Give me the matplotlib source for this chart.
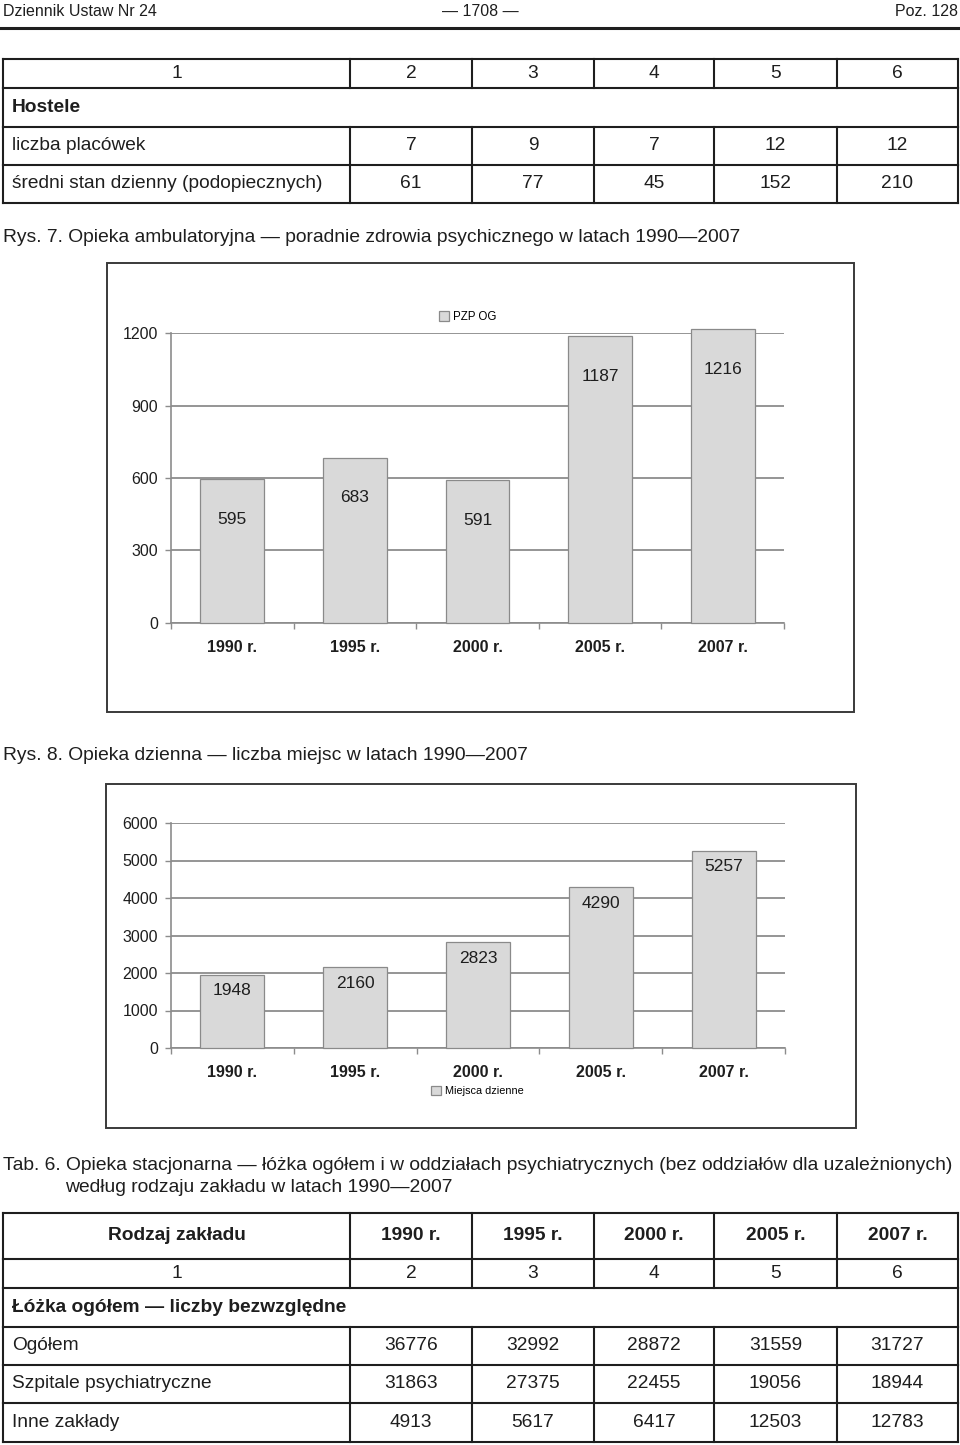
import matplotlib
matplotlib.use("Agg")
import matplotlib.pyplot as plt
from matplotlib import font_manager
from matplotlib.patches import Rectangle

# ── Data ──────────────────────────────────────────────────────────────────────
years = ["1990 r.", "1995 r.", "2000 r.", "2005 r.", "2007 r."]
col_numbers = ["1", "2", "3", "4", "5", "6"]

hostele_placowki = [7, 9, 7, 12, 12]
hostele_stan = [61, 77, 45, 152, 210]

pzp_og = [595, 683, 591, 1187, 1216]
pzp_ticks = [0, 300, 600, 900, 1200]

miejsca_dzienne = [1948, 2160, 2823, 4290, 5257]
dzienne_ticks = [0, 1000, 2000, 3000, 4000, 5000, 6000]

tab6_rows = ["Ogółem", "Szpitale psychiatryczne", "Inne zakłady"]
tab6_ogolem = [36776, 32992, 28872, 31559, 31727]
tab6_szpitale = [31863, 27375, 22455, 19056, 18944]
tab6_inne = [4913, 5617, 6417, 12503, 12783]

# ── Page setup ────────────────────────────────────────────────────────────────
W, H = 960, 1445
names = {f.name for f in font_manager.fontManager.ttflist}
SANS = "Liberation Sans"
HAS_NARROW = "Liberation Sans Narrow" in names
NARROW = "Liberation Sans Narrow" if HAS_NARROW else SANS

plt.rcParams["font.family"] = [SANS, "DejaVu Sans"]

fig = plt.figure(figsize=(W / 100, H / 100), dpi=100)
page = fig.add_axes([0, 0, 1, 1])
page.set_xlim(0, W)
page.set_ylim(H, 0)
page.axis("off")

INK = "#1e1e1e"
GRID = "#8c8c8c"
BAR = "#d9d9d9"
BAR_EDGE = "#8a8a8a"


def px_axes(x0, y0, x1, y1):
    return fig.add_axes([x0 / W, 1 - y1 / H, (x1 - x0) / W, (y1 - y0) / H])


def draw_table(cols, rows, cells, span_rows, bold_rows, fs=13.8):
    for y in rows:
        page.plot([cols[0], cols[-1]], [y, y], color=INK, lw=1.5,
                  solid_capstyle="projecting")
    for i in range(len(rows) - 1):
        y0, y1 = rows[i], rows[i + 1]
        page.plot([cols[0], cols[0]], [y0, y1], color=INK, lw=1.5)
        page.plot([cols[-1], cols[-1]], [y0, y1], color=INK, lw=1.5)
        yc = (y0 + y1) / 2
        weight = "bold" if i in bold_rows else "normal"
        if i in span_rows:
            page.text(cols[0] + 9, yc, cells[i], ha="left", va="center",
                      fontsize=fs, fontweight=weight, color=INK)
            continue
        for x in cols[1:-1]:
            page.plot([x, x], [y0, y1], color=INK, lw=1.5)
        row = cells[i]
        for j, val in enumerate(row):
            if j == 0 and isinstance(val, str) and not val.isdigit() and i not in bold_rows:
                page.text(cols[0] + 9, yc, val, ha="left", va="center",
                          fontsize=fs, fontweight=weight, color=INK)
            else:
                page.text((cols[j] + cols[j + 1]) / 2, yc, str(val), ha="center",
                          va="center", fontsize=fs, fontweight=weight, color=INK)


def bar_chart(box, area, values, ticks, legend_label, legend_xy, legend_fs, label_drop):
    bx0, by0, bx1, by1 = box
    page.add_patch(Rectangle((bx0, by0), bx1 - bx0, by1 - by0, fill=False,
                             ec="#3a3a3a", lw=1.4))
    ax = px_axes(*area)
    x = list(range(len(values)))
    bars = ax.bar(x, values, width=0.52, color=BAR, edgecolor=BAR_EDGE,
                  linewidth=0.9, zorder=3, clip_on=False, label=legend_label)
    ax.set_xlim(-0.5, len(values) - 0.5)
    ax.set_ylim(ticks[0], ticks[-1])
    ax.set_yticks(ticks)
    ax.set_yticklabels([str(t) for t in ticks], fontfamily=NARROW, fontsize=11.5,
                       color=INK)
    ax.set_xticks(x)
    ax.set_xticklabels(years, fontweight="bold", fontsize=11.5, color=INK)
    ax.set_xticks([i - 0.5 for i in range(len(values) + 1)], minor=True)
    ax.tick_params(axis="x", which="major", length=0, pad=12)
    ax.tick_params(axis="x", which="minor", length=4, color=GRID, width=1)
    ax.tick_params(axis="y", length=4, color=GRID, width=1, pad=5.5)
    ax.yaxis.grid(True, color=GRID, lw=1.3)
    ax.set_axisbelow(True)
    for s in ["top", "right"]:
        ax.spines[s].set_visible(False)
    for s in ["left", "bottom"]:
        ax.spines[s].set_color(GRID)
        ax.spines[s].set_linewidth(1.2)
    ax.patch.set_alpha(0)
    for i, v in enumerate(values):
        ax.annotate(str(v), (i, v), xytext=(0, -label_drop * 0.72),
                    textcoords="offset points", ha="center", va="center",
                    fontfamily=NARROW, fontsize=12.5, color=INK,
                    annotation_clip=False)
    ax.legend(handles=[bars], loc="center left",
              bbox_to_anchor=(legend_xy[0] / W, 1 - legend_xy[1] / H),
              bbox_transform=fig.transFigure, frameon=False, borderpad=0,
              handlelength=0.9, handleheight=0.9, handletextpad=0.35,
              prop={"family": NARROW, "size": legend_fs})
    return ax


# ── Running head ──────────────────────────────────────────────────────────────
head_fs = 13.5 if HAS_NARROW else 11.5
page.text(3, 12, "Dziennik Ustaw Nr 24", ha="left", va="center",
          fontfamily=NARROW, fontsize=head_fs, color=INK)
page.text(480, 12, "— 1708 —", ha="center", va="center",
          fontfamily=NARROW, fontsize=head_fs, color=INK)
page.text(958, 12, "Poz. 128", ha="right", va="center",
          fontfamily=NARROW, fontsize=head_fs, color=INK)
page.plot([0, W], [28, 28], color=INK, lw=2.2)

# ── Table (Hostele) ───────────────────────────────────────────────────────────
cols = [3, 350, 472, 594, 714, 837, 958]
draw_table(
    cols, [59, 88, 127, 165, 203],
    [col_numbers, "Hostele",
     ["liczba placówek"] + hostele_placowki,
     ["średni stan dzienny (podopiecznych)"] + hostele_stan],
    span_rows={1}, bold_rows={1},
)

# ── Rys. 7 ────────────────────────────────────────────────────────────────────
page.text(3, 238, "Rys. 7. Opieka ambulatoryjna — poradnie zdrowia psychicznego w latach 1990—2007",
          ha="left", va="center", fontsize=13.9, color=INK)
bar_chart((107, 263, 854, 712), (171, 333, 784, 623), pzp_og, pzp_ticks,
          "PZP OG", (433, 317), 8.3, 40)

# ── Rys. 8 ────────────────────────────────────────────────────────────────────
page.text(3, 755, "Rys. 8. Opieka dzienna — liczba miejsc w latach 1990—2007",
          ha="left", va="center", fontsize=13.9, color=INK)
bar_chart((106, 784, 856, 1128), (171, 823, 785, 1048), miejsca_dzienne,
          dzienne_ticks, "Miejsca dzienne", (426, 1091), 7.8, 16)

# ── Tab. 6 ────────────────────────────────────────────────────────────────────
page.text(3, 1166, "Tab. 6. Opieka stacjonarna — łóżka ogółem i w oddziałach psychiatrycznych "
          "(bez oddziałów dla uzależnionych)", ha="left", va="center", fontsize=13.9, color=INK)
page.text(65, 1188, "według rodzaju zakładu w latach 1990—2007",
          ha="left", va="center", fontsize=13.9, color=INK)
draw_table(
    cols, [1213, 1259, 1288, 1327, 1365, 1403, 1442],
    [["Rodzaj zakładu"] + years, col_numbers,
     "Łóżka ogółem — liczby bezwzględne",
     [tab6_rows[0]] + tab6_ogolem,
     [tab6_rows[1]] + tab6_szpitale,
     [tab6_rows[2]] + tab6_inne],
    span_rows={2}, bold_rows={0, 2},
)

fig.savefig("out.png", dpi=100)
